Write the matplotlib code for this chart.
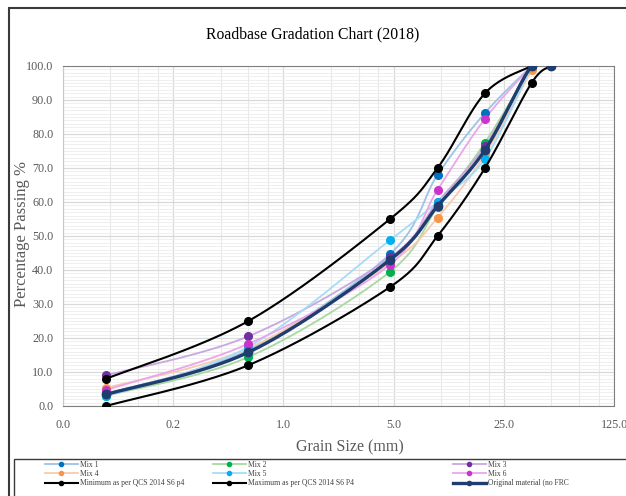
import numpy as np
import matplotlib
matplotlib.use("Agg")
import matplotlib.pyplot as plt
from matplotlib.lines import Line2D
from matplotlib.patches import Rectangle
from matplotlib.ticker import FixedLocator, LogLocator, MultipleLocator, FormatStrFormatter

plt.rcParams['font.family'] = ['Liberation Serif', 'DejaVu Serif']

# sieve sizes (mm)
sieves = [0.075, 0.6, 4.75, 9.5, 19, 37.5]
sieves_orig = [0.075, 0.6, 4.75, 9.5, 19, 37.5, 50]
sieves_min = [0.075, 0.6, 4.75, 9.5, 19, 37.5, 50]
sieves_max = [0.075, 0.6, 4.75, 9.5, 19, 37.5]

# percentage passing
mix1 = [3.6, 16.5, 44.7, 68.0, 86.2, 100]
mix2 = [3.0, 14.4, 39.5, 58.5, 77.5, 100]
mix3 = [9.0, 20.5, 43.7, 60.0, 76.5, 100]
mix4 = [5.3, 17.0, 42.0, 55.4, 74.0, 98.8]
mix5 = [2.8, 17.4, 48.8, 60.1, 72.7, 100]
mix6 = [4.7, 18.3, 41.6, 63.6, 84.5, 100]
original = [3.4, 15.8, 43.0, 58.8, 75.3, 100, 100]
minimum = [0, 12, 35, 50, 70, 95, 100]
maximum = [8, 25, 55, 70, 92, 100]

mix_names = ["Mix 1", "Mix 2", "Mix 3", "Mix 4", "Mix 5", "Mix 6"]
line_colors = ["#9DC3E6", "#A9D8A0", "#C9A8E0", "#F8CBAD", "#A6DCF5", "#EAA6EA"]
marker_colors = ["#0070C0", "#00B050", "#7030A0", "#F79646", "#00B0F0", "#CC33CC"]
navy = "#1F3D6E"


def smooth(x, y, n=40):
    # catmull-rom (excel style smoothed line) in log-x space
    lx = np.log(np.array(x, dtype=float))
    yy = np.array(y, dtype=float)
    P = np.column_stack([lx, yy])
    P = np.vstack([P[0], P, P[-1]])
    out = []
    t = np.linspace(0, 1, n)[:, None]
    for i in range(1, len(P) - 2):
        p0, p1, p2, p3 = P[i - 1], P[i], P[i + 1], P[i + 2]
        c1 = p1 + (p2 - p0) / 6
        c2 = p2 - (p3 - p1) / 6
        seg = ((1 - t) ** 3) * p1 + 3 * ((1 - t) ** 2) * t * c1 + 3 * (1 - t) * t ** 2 * c2 + t ** 3 * p2
        out.append(seg)
    out = np.vstack(out)
    return np.exp(out[:, 0]), out[:, 1]


fig = plt.figure(figsize=(6.26, 4.96), dpi=100)
ax = fig.add_axes([63 / 626, 1 - 406 / 496, (614 - 63) / 626, (406 - 66) / 496])

mixes = [mix1, mix2, mix3, mix4, mix5, mix6]
for vals, lc, mc in zip(mixes, line_colors, marker_colors):
    sx, sy = smooth(sieves, vals)
    ax.plot(sx, sy, color=lc, lw=1.3, zorder=3)
for vals, mc in zip(mixes, marker_colors):
    ax.plot(sieves, vals, 'o', color=mc, ms=5.5, zorder=4)

for xs, vals in [(sieves_min, minimum), (sieves_max, maximum)]:
    sx, sy = smooth(xs, vals)
    ax.plot(sx, sy, color="black", lw=1.5, zorder=5)
    ax.plot(xs, vals, 'o', color="black", ms=5.5, zorder=5)

sx, sy = smooth(sieves_orig, original)
ax.plot(sx, sy, color=navy, lw=2.4, zorder=6)
ax.plot(sieves_orig, original, 'o', color=navy, ms=6, zorder=6)

ax.set_xscale('log', base=5)
ax.set_xlim(0.04, 125)
ax.set_ylim(0, 100)
ax.xaxis.set_major_locator(FixedLocator([0.04, 0.2, 1, 5, 25, 125]))
ax.xaxis.set_major_formatter(FormatStrFormatter('%.1f'))
ax.xaxis.set_minor_locator(LogLocator(base=5, subs=[2, 3, 4]))
ax.xaxis.set_minor_formatter(plt.NullFormatter())
ax.yaxis.set_major_locator(MultipleLocator(10))
ax.yaxis.set_minor_locator(MultipleLocator(1))
ax.yaxis.set_major_formatter(FormatStrFormatter('%.1f'))

ax.grid(which='major', color='#D9D9D9', lw=0.9, zorder=0)
ax.grid(which='minor', axis='x', color='#E8E8E8', lw=0.8, zorder=0)
ax.grid(which='minor', axis='y', color='#EDEDED', lw=0.6, zorder=0)
ax.set_axisbelow(True)
ax.tick_params(which='both', length=0, labelsize=8.7, colors='#595959')
ax.tick_params(axis='y', pad=7)
ax.tick_params(axis='x', pad=9)
for s in ['top', 'right', 'bottom']:
    ax.spines[s].set_color('#808080')
ax.spines['left'].set_color('#C8C8C8')

fig.text(0.5, 1 - 34 / 496, "Roadbase Gradation Chart (2018)", ha='center', va='center', fontsize=11.3)
fig.text(22 / 626, 1 - 234 / 496, "Percentage Passing %", rotation=90, ha='center', va='center',
         fontsize=12, color='#595959')
fig.text(350 / 626, 1 - 447 / 496, "Grain Size (mm)", ha='center', va='center', fontsize=11.5,
         color='#595959')

# outer chart border and legend box
fig.patches.append(Rectangle((9 / 626, -0.1), 1.0, 1.1 - 8 / 496, transform=fig.transFigure,
                             fill=False, edgecolor='#3A3A3A', lw=1.5))
fig.patches.append(Rectangle((14 / 626, -0.1), 1.0, 0.1 + 1 - 459 / 496, transform=fig.transFigure,
                             fill=False, edgecolor='#3A3A3A', lw=1.0))


def proxy(lc, mc, lw=1.3):
    return Line2D([], [], color=lc, lw=lw, marker='o', ms=3, mfc=mc, mec=mc)


columns = [
    ([proxy(line_colors[0], marker_colors[0]), proxy(line_colors[3], marker_colors[3]),
      proxy("black", "black", 1.5)],
     ["Mix 1", "Mix 4", "Minimum as per QCS 2014 S6 p4"], 45),
    ([proxy(line_colors[1], marker_colors[1]), proxy(line_colors[4], marker_colors[4]),
      proxy("black", "black", 1.5)],
     ["Mix 2", "Mix 5", "Maximum as per QCS 2014 S6 P4"], 213),
    ([proxy(line_colors[2], marker_colors[2]), proxy(line_colors[5], marker_colors[5]),
      proxy(navy, navy, 2.4)],
     ["Mix 3", "Mix 6", "Original material (no FRC"], 453),
]
for handles, labels, xpos in columns:
    fig.legend(handles, labels, loc='upper left', bbox_to_anchor=(xpos / 626, 1 - 461 / 496),
               frameon=False, fontsize=5.5, handlelength=4.3, handletextpad=0.3,
               borderpad=0, borderaxespad=0, labelspacing=0.15, numpoints=1,
               labelcolor='#404040')

fig.savefig("out.png", dpi=100)
